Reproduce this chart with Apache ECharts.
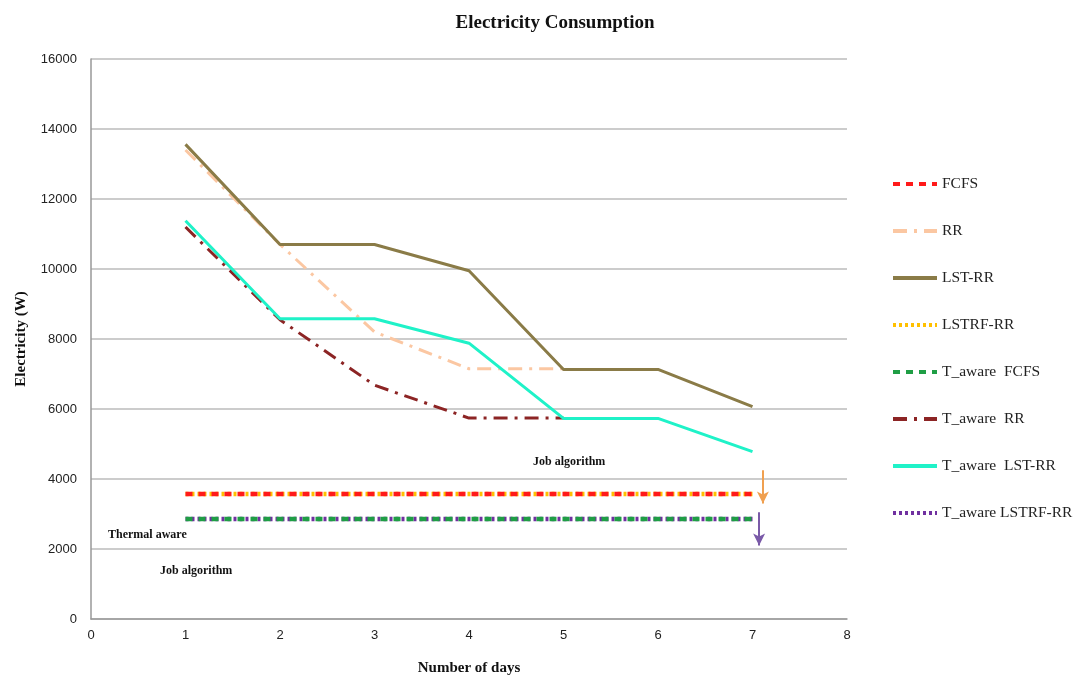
<!DOCTYPE html>
<html>
<head>
<meta charset="utf-8">
<script src="https://cdn.jsdelivr.net/npm/echarts@6/dist/echarts.min.js"></script>
<style>
  html, body { margin: 0; padding: 0; background: #fff; }
  #main { width: 1085px; height: 683px; }
</style>
</head>
<body>
<div id="main"></div>
<script>
// data
const days = [1, 2, 3, 4, 5, 6, 7];
const fcfs = [3570, 3570, 3570, 3570, 3570, 3570, 3570];
const rr = [13400, 10700, 8200, 7150, 7150];
const lstRR = [13560, 10700, 10700, 9950, 7130, 7130, 6070];
const lstrfRR = [3570, 3570, 3570, 3570, 3570, 3570, 3570];
const tFcfs = [2860, 2860, 2860, 2860, 2860, 2860, 2860];
const tRR = [11200, 8550, 6680, 5740, 5740];
const tLstRR = [11380, 8580, 8580, 7880, 5730, 5730, 4780];
const tLstrfRR = [2860, 2860, 2860, 2860, 2860, 2860, 2860];

const pairs = (vals) => vals.map((v, i) => [days[i], v]);

const serifBold = { fontFamily: 'Liberation Serif', fontWeight: 'bold', color: '#111' };
const noteStyle = { fontSize: 12, fontFamily: 'Liberation Serif', fontWeight: 'bold', fill: '#111' };

const chart = echarts.init(document.getElementById('main'));

function lineSeries(name, vals, color, type, width, z) {
  return {
    name: name,
    type: 'line',
    data: pairs(vals),
    symbol: 'none',
    z: z,
    itemStyle: { color: color },
    lineStyle: { color: color, width: width, type: type, cap: 'butt' }
  };
}

const option = {
  animation: false,
  title: {
    text: 'Electricity Consumption',
    left: 550,
    textAlign: 'center',
    top: 9,
    textStyle: Object.assign({ fontSize: 19 }, serifBold)
  },
  grid: { left: 91, right: 238, top: 59, bottom: 64 },
  legend: {
    orient: 'vertical',
    left: 886,
    top: 171,
    itemWidth: 44,
    itemHeight: 14,
    itemGap: 31,
    itemStyle: { opacity: 0 },
    lineStyle: { width: 4 },
    textStyle: { fontFamily: 'Liberation Serif', fontSize: 15.5, color: '#222' },
    data: ['FCFS', 'RR', 'LST-RR', 'LSTRF-RR', 'T_aware  FCFS', 'T_aware  RR', 'T_aware  LST-RR', 'T_aware LSTRF-RR']
  },
  xAxis: {
    type: 'value',
    min: 0, max: 8, interval: 1,
    name: 'Number of days',
    nameLocation: 'middle',
    nameGap: 42,
    nameTextStyle: Object.assign({ fontSize: 15 }, serifBold),
    axisLine: { lineStyle: { color: '#999', width: 1.5 } },
    axisTick: { show: false },
    axisLabel: { fontFamily: 'Liberation Sans', fontSize: 13, color: '#222', margin: 10 },
    splitLine: { show: false }
  },
  yAxis: {
    type: 'value',
    min: 0, max: 16000, interval: 2000,
    name: 'Electricity (W)',
    nameLocation: 'middle',
    nameGap: 62,
    nameTextStyle: Object.assign({ fontSize: 15 }, serifBold),
    axisLine: { show: true, lineStyle: { color: '#999', width: 1.5 } },
    axisTick: { show: false },
    axisLabel: { fontFamily: 'Liberation Sans', fontSize: 13, color: '#222', margin: 14, formatter: (v) => String(v) },
    splitLine: { lineStyle: { color: '#bbb', width: 1.5 } }
  },
  series: [
    lineSeries('FCFS', fcfs, '#ff1a1a', [7, 6], 4.5, 4),
    lineSeries('RR', rr, '#fbc7a2', [14, 7, 3, 7], 3, 2),
    lineSeries('LST-RR', lstRR, '#8a7b47', 'solid', 3, 3),
    lineSeries('LSTRF-RR', lstrfRR, '#ffc000', [3, 3], 4.5, 3),
    lineSeries('T_aware  FCFS', tFcfs, '#1f9e45', [7, 6], 4.5, 4),
    lineSeries('T_aware  RR', tRR, '#8c2424', [14, 7, 3, 7], 3, 2),
    lineSeries('T_aware  LST-RR', tLstRR, '#1ff2c8', 'solid', 3, 3),
    lineSeries('T_aware LSTRF-RR', tLstrfRR, '#7030a0', [3, 3], 4.5, 3),
    {
      name: 'arrows',
      type: 'line',
      data: [],
      markLine: {
        silent: true,
        symbol: ['none', 'arrow'],
        symbolSize: [9, 12],
        label: { show: false },
        data: [
          [{ coord: [7.11, 4250], lineStyle: { color: '#f0a050', width: 2, type: 'solid' }, itemStyle: { color: '#f0a050' } },
           { coord: [7.11, 3300] }],
          [{ coord: [7.07, 3050], lineStyle: { color: '#7a5aa8', width: 2, type: 'solid' }, itemStyle: { color: '#7a5aa8' } },
           { coord: [7.07, 2100] }]
        ]
      }
    }
  ],
  graphic: [
    { type: 'text', left: 533, top: 456, style: Object.assign({ text: 'Job algorithm' }, noteStyle) },
    { type: 'text', left: 108, top: 529, style: Object.assign({ text: 'Thermal aware' }, noteStyle) },
    { type: 'text', left: 160, top: 565, style: Object.assign({ text: 'Job algorithm' }, noteStyle) }
  ]
};

chart.setOption(option);
</script>
</body>
</html>
